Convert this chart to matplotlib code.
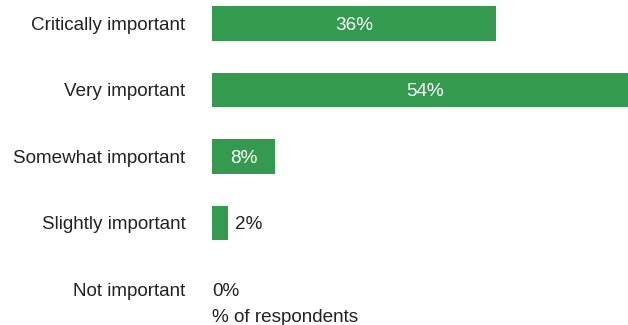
import matplotlib.pyplot as plt
from matplotlib.transforms import offset_copy

plt.rcParams['font.family'] = ['Liberation Sans', 'DejaVu Sans']

categories = ["Critically important", "Very important", "Somewhat important",
              "Slightly important", "Not important"]
values = [36, 54, 8, 2, 0]
labels = ["36%", "54%", "8%", "2%", "0%"]

green = "#339a4f"
text_col = "#222222"
fs = 13.6

fig = plt.figure(figsize=(6.28, 3.25), dpi=100)
ax = fig.add_axes([212 / 628, 0, 1 - 212 / 628, 1])

pos = list(range(len(categories)))
ax.barh(pos, values, height=0.52, color=green)
ax.set_xlim(0, 52.8)
ax.set_ylim(4.534, -0.353)

ax.set_yticks(pos)
ax.set_yticklabels(categories, fontsize=fs, color=text_col)
ax.tick_params(axis='y', length=0, pad=19)
ax.set_xticks([])
for s in ax.spines.values():
    s.set_visible(False)

# value labels: white inside wide bars, dark just after short ones
for p, v, lab in zip(pos, values, labels):
    off = 0
    col = 'white'
    ha = 'center'
    x = v / 2
    if v < 5:
        off = 7.7 * 72 / 100 if v > 0 else 0
        col = text_col
        ha = 'left'
        x = v
    tr = offset_copy(ax.transData, fig=fig, x=off, y=-1.2, units='points')
    ax.text(x, p, lab, ha=ha, va='center', color=col, fontsize=fs, transform=tr)

fig.text(212 / 628, 1 - 317.5 / 325, "% of respondents", ha='left', va='center',
         color=text_col, fontsize=fs)

fig.savefig("out.png", dpi=100)
